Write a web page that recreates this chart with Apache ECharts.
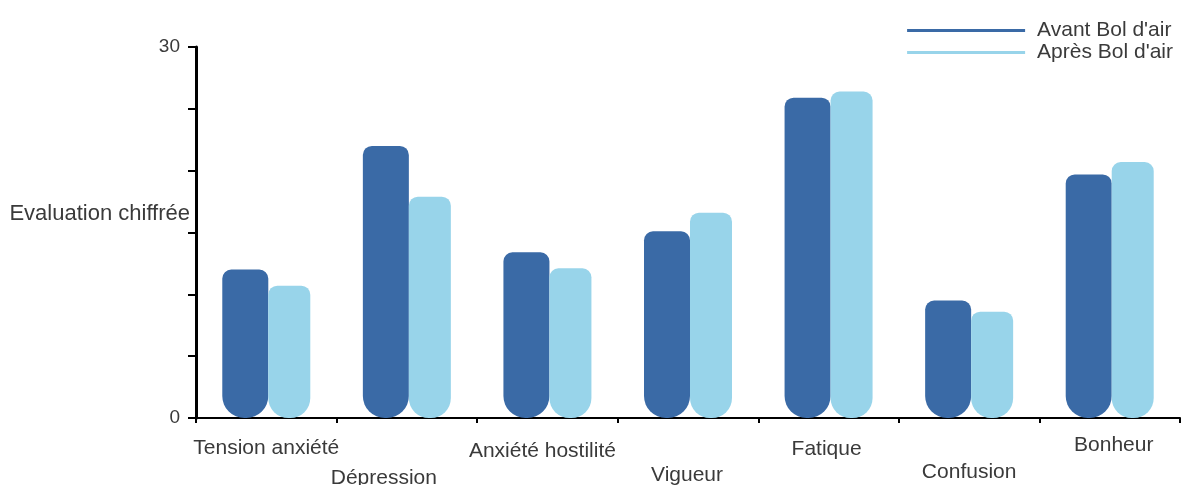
<!DOCTYPE html>
<html>
<head>
<meta charset="utf-8">
<script src="https://cdn.jsdelivr.net/npm/echarts@6/dist/echarts.min.js"></script>
<style>
html,body{margin:0;padding:0;background:#fff;}
#chart{width:1184px;height:485px;}
</style>
</head>
<body>
<div id="chart"></div>
<script>
const categories = ['Tension anxiété', 'Dépression', 'Anxiété hostilité', 'Vigueur', 'Fatique', 'Confusion', 'Bonheur'];
const avant = [12.0, 22.0, 13.4, 15.1, 25.9, 9.5, 19.7];
const apres = [10.7, 17.9, 12.1, 16.6, 26.4, 8.6, 20.7];
const seriesNames = ['Avant Bol d\'air', 'Après Bol d\'air'];
const yLabelsShown = [0, 30];

const FONT = 'Liberation Sans, Arial, sans-serif';
// per-label layout tweaks (vertical offset, horizontal shift)
const labelTweaks = [
  {top: 20, shift: 0},
  {top: 50, shift: -23},
  {top: 23, shift: -5},
  {top: 47, shift: -1},
  {top: 21, shift: -2},
  {top: 44, shift: 0},
  {top: 17, shift: 4}
];

const rich = {};
labelTweaks.forEach((t, i) => {
  rich['l' + i] = {
    fontSize: 21,
    fontFamily: FONT,
    color: '#3a3a3a',
    padding: [t.top, t.shift < 0 ? -2 * t.shift : 0, 0, t.shift > 0 ? 2 * t.shift : 0]
  };
});

const chart = echarts.init(document.getElementById('chart'));
chart.setOption({
  animation: false,
  backgroundColor: '#fff',
  grid: {left: 196, right: 4, top: 47, bottom: 67, containLabel: false, outerBoundsMode: 'none'},
  legend: {
    orient: 'vertical',
    right: 6,
    top: 15,
    itemGap: 1,
    itemWidth: 118,
    itemHeight: 3,
    icon: 'rect',
    textStyle: {fontSize: 21, color: '#3a3a3a', fontFamily: FONT, padding: [0, 0, 0, 7]},
    data: seriesNames
  },
  xAxis: {
    type: 'category',
    data: categories,
    axisLine: {lineStyle: {color: '#000', width: 2}},
    axisTick: {show: true, length: 5, lineStyle: {color: '#000', width: 2}},
    axisLabel: {
      interval: 0,
      margin: 0,
      formatter: (v, i) => '{l' + i + '|' + v + '}',
      rich: rich
    }
  },
  yAxis: {
    type: 'value',
    min: 0,
    max: 30,
    interval: 5,
    name: 'Evaluation chiffrée',
    nameLocation: 'middle',
    nameRotate: 0,
    nameGap: 6,
    nameMoveOverlap: false,
    nameTextStyle: {fontSize: 22, color: '#3a3a3a', fontFamily: FONT, verticalAlign: 'bottom', padding: [0, 0, 8, 0]},
    axisLine: {show: true, lineStyle: {color: '#000', width: 3}},
    axisTick: {show: true, length: 8, lineStyle: {color: '#000', width: 2}},
    splitLine: {show: false},
    axisLabel: {
      margin: 16,
      fontSize: 19,
      color: '#3a3a3a',
      fontFamily: FONT,
      formatter: v => yLabelsShown.includes(v) ? String(v) : ''
    }
  },
  series: [
    {
      name: seriesNames[0],
      type: 'bar',
      data: avant,
      barWidth: 46,
      barGap: '0%',
      itemStyle: {color: '#3A6AA6', borderRadius: [9, 9, 22, 22]}
    },
    {
      name: seriesNames[1],
      type: 'bar',
      data: apres,
      barWidth: 42,
      itemStyle: {color: '#98D4EA', borderRadius: [9, 9, 20, 20]}
    }
  ]
});
</script>
</body>
</html>
